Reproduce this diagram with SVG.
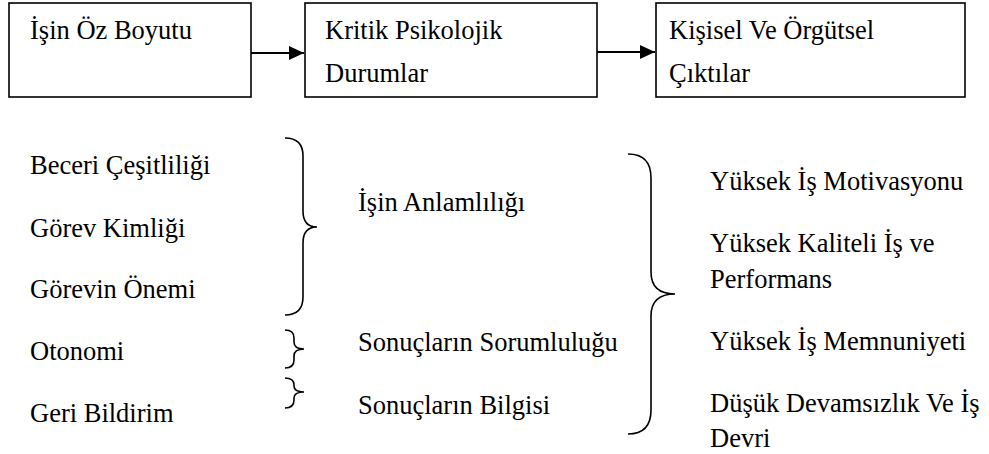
<svg xmlns="http://www.w3.org/2000/svg" width="989" height="454" viewBox="0 0 989 454">
  <style>
    .box { fill: #ffffff; stroke: #000000; stroke-width: 1.6; }
    .lbl { font-family: "Liberation Serif", "Times New Roman", serif; font-size: 26.5px; fill: #000000; }
    .link { stroke: #000000; stroke-width: 2; fill: none; }
    .brace { stroke: #000000; stroke-width: 1.6; fill: none; }
  </style>
  <defs>
    <marker id="arrow" markerUnits="userSpaceOnUse" markerWidth="16" markerHeight="16" refX="15" refY="7" orient="auto">
      <path d="M0,0 L15,7 L0,14 z" fill="#000000"/>
    </marker>
  </defs>
  <rect width="989" height="454" fill="#ffffff"/>

  <!-- Model boxes -->
  <g id="node-isin-oz-boyutu">
    <rect class="box" x="9" y="3" width="242" height="94"/>
    <text class="lbl" x="30" y="39">İşin Öz Boyutu</text>
  </g>
  <g id="node-kritik-psikolojik">
    <rect class="box" x="305" y="3" width="292" height="94"/>
    <text class="lbl" x="325" y="39">Kritik Psikolojik</text>
    <text class="lbl" x="325" y="82">Durumlar</text>
  </g>
  <g id="node-ciktilar">
    <rect class="box" x="656" y="3" width="309" height="94"/>
    <text class="lbl" x="669" y="39">Kişisel Ve Örgütsel</text>
    <text class="lbl" x="669" y="82">Çıktılar</text>
  </g>

  <!-- Connectors between boxes -->
  <g id="connectors">
    <line class="link" x1="251" y1="53" x2="304" y2="53" marker-end="url(#arrow)"/>
    <line class="link" x1="597" y1="52" x2="655" y2="52" marker-end="url(#arrow)"/>
  </g>

  <!-- Core job dimensions -->
  <g id="dimensions">
    <text class="lbl" x="30" y="174">Beceri Çeşitliliği</text>
    <text class="lbl" x="30" y="237">Görev Kimliği</text>
    <text class="lbl" x="30" y="298">Görevin Önemi</text>
    <text class="lbl" x="30" y="360">Otonomi</text>
    <text class="lbl" x="30" y="422">Geri Bildirim</text>
  </g>

  <!-- Braces -->
  <g id="braces">
    <path class="brace" d="M285,138 Q303,138 303,156 L303,211 Q303,227 317,227 Q303,227 303,243 L303,297 Q303,315 285,315"/>
    <path class="brace" d="M285,330 Q294,330 294,338 L294,342 Q294,349 304,349 Q294,349 294,356 L294,360 Q294,368 285,368"/>
    <path class="brace" d="M285,378 Q294,378 294,385 L294,386 Q294,392 304,392 Q294,392 294,398 L294,400 Q294,408 285,408"/>
    <path class="brace" d="M628,154 Q651,154 651,178 L651,272 Q651,294 675,294 Q651,294 651,316 L651,410 Q651,434 628,434"/>
  </g>

  <!-- Critical psychological states -->
  <g id="states">
    <text class="lbl" x="358" y="211">İşin Anlamlılığı</text>
    <text class="lbl" x="358" y="351">Sonuçların Sorumluluğu</text>
    <text class="lbl" x="358" y="414">Sonuçların Bilgisi</text>
  </g>

  <!-- Personal and organisational outcomes -->
  <g id="outcomes">
    <text class="lbl" x="710" y="190">Yüksek İş Motivasyonu</text>
    <text class="lbl" x="710" y="252">Yüksek Kaliteli İş ve</text>
    <text class="lbl" x="710" y="288">Performans</text>
    <text class="lbl" x="710" y="350">Yüksek İş Memnuniyeti</text>
    <text class="lbl" x="710" y="412">Düşük Devamsızlık Ve İş</text>
    <text class="lbl" x="710" y="447">Devri</text>
  </g>
</svg>
